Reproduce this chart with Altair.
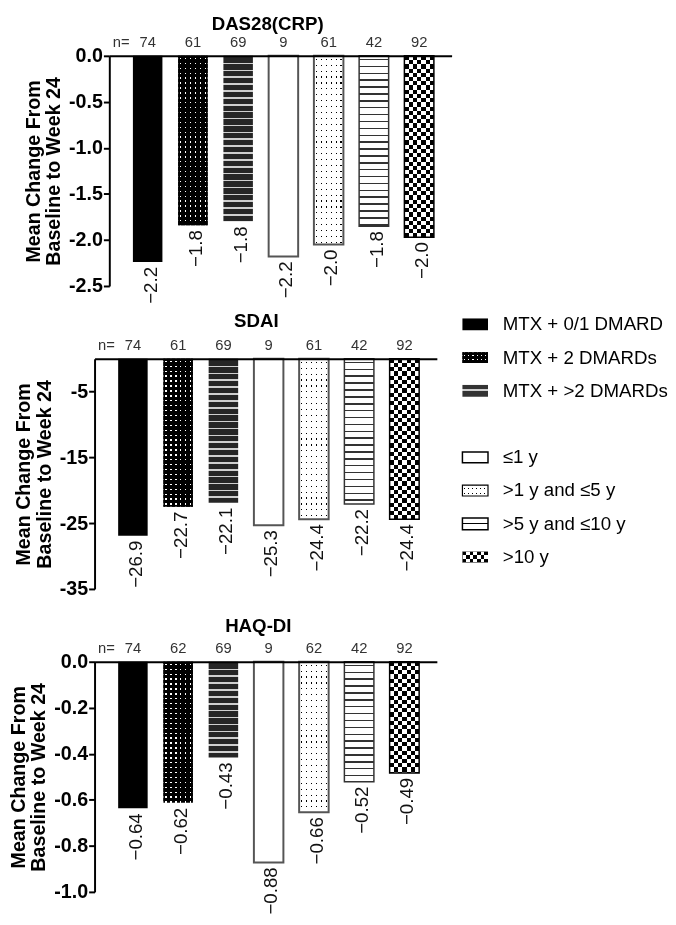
import altair as alt
import pandas as pd

F = "Liberation Sans, Arial, Helvetica, sans-serif"

# ---------------- data ----------------
categories = ["MTX + 0/1 DMARD", "MTX + 2 DMARDs", "MTX + >2 DMARDs",
              "≤1 y", ">1 y and ≤5 y", ">5 y and ≤10 y", ">10 y"]

das_mean = [-2.24, -1.84, -1.80, -2.18, -2.05, -1.85, -1.97]
das_label = ["−2.2", "−1.8", "−1.8", "−2.2", "−2.0", "−1.8", "−2.0"]
das_n = [74, 61, 69, 9, 61, 42, 92]

sdai_mean = [-26.9, -22.5, -21.9, -25.3, -24.4, -22.1, -24.4]
sdai_label = ["−26.9", "−22.7", "−22.1", "−25.3", "−24.4", "−22.2", "−24.4"]
sdai_n = [74, 61, 69, 9, 61, 42, 92]

haq_mean = [-0.637, -0.613, -0.416, -0.872, -0.654, -0.521, -0.483]
haq_label = ["−0.64", "−0.62", "−0.43", "−0.88", "−0.66", "−0.52", "−0.49"]
haq_n = [74, 62, 69, 9, 62, 42, 92]

das_ticks = [0, -0.5, -1.0, -1.5, -2.0, -2.5]
sdai_ticks = [-5, -15, -25, -35]
haq_ticks = [0, -0.2, -0.4, -0.6, -0.8, -1.0]

y_title = ["Mean Change From", "Baseline to Week 24"]
legend_rows = ["MTX + 0/1 DMARD", "MTX + 2 DMARDs", "MTX + >2 DMARDs", " ",
               "≤1 y", ">1 y and ≤5 y", ">5 y and ≤10 y", ">10 y"]

# ---------------- style helpers ----------------
BAR_W = 30
PLOT_H = 234
PLOT_W = 348


def stops(L, period, lw, bg, fg, phase):
    out = [{"offset": 0, "color": bg}]
    s = phase
    while s < L:
        a = max(0.0, s / L)
        b = min((s + lw) / L, 1.0)
        out += [{"offset": a, "color": bg}, {"offset": a, "color": fg},
                {"offset": b, "color": fg}, {"offset": b, "color": bg}]
        s += period
    out.append({"offset": 1, "color": bg})
    return out


def grad(direction, st):
    if direction == "v":   # varies along y -> horizontal lines
        return {"gradient": "linear", "x1": 0, "y1": 0, "x2": 0, "y2": 1, "stops": st}
    return {"gradient": "linear", "x1": 0, "y1": 0, "x2": 1, "y2": 0, "stops": st}


def bar_pattern(kind, w, h):
    if kind == 0:
        return [dict(fill="black")]
    if kind == 1:
        return [dict(fill=grad("h", stops(w, 5, 1.4, "black", "white", 2))),
                dict(fill=grad("v", stops(h, 5, 1.4, "black", "white", 2)), blend="darken")]
    if kind == 2:
        return [dict(fill=grad("v", stops(h, 7, 1.6, "#262626", "#cfcfcf", 0)))]
    if kind == 3:
        return [dict(fill="white", stroke="#555555", strokeWidth=2)]
    if kind == 4:
        return [dict(fill=grad("h", stops(w, 5, 1.2, "white", "black", 2))),
                dict(fill=grad("v", stops(h, 6, 1.2, "white", "black", 3)), blend="lighten"),
                dict(fillOpacity=0, stroke="#555555", strokeWidth=2)]
    if kind == 5:
        return [dict(fill=grad("v", stops(h, 7, 1.5, "white", "#333333", 3))),
                dict(fillOpacity=0, stroke="#333333", strokeWidth=1.5)]
    return [dict(fill=grad("h", stops(w, 8.6, 4.3, "white", "black", 0))),
            dict(fill=grad("v", stops(h, 8.6, 4.3, "white", "black", 0)), blend="difference"),
            dict(fillOpacity=0, stroke="black", strokeWidth=1.5)]


def legend_pattern(kind, w, h):
    if kind == 0:
        return [dict(fill="black")]
    if kind == 1:
        return [dict(fill=grad("h", stops(w, 4.3, 1.2, "black", "white", 1.5))),
                dict(fill=grad("v", stops(h, 4, 1.2, "black", "white", 3)), blend="darken")]
    if kind == 2:
        return [dict(fill=grad("v", stops(h, 100, 2, "#333333", "#cfcfcf", 4.5)))]
    if kind == 3:
        return [dict(fill="white", stroke="black", strokeWidth=1.5)]
    if kind == 4:
        return [dict(fill=grad("h", stops(w, 4, 1.0, "white", "black", 2))),
                dict(fill=grad("v", stops(h, 5, 1.0, "white", "black", 2.5)), blend="lighten"),
                dict(fillOpacity=0, stroke="black", strokeWidth=1.2)]
    if kind == 5:
        return [dict(fill=grad("v", stops(h, 100, 1.5, "white", "black", 4.8))),
                dict(fillOpacity=0, stroke="black", strokeWidth=1.5)]
    return [dict(fill=grad("h", stops(w, 7.4, 3.7, "white", "black", 0))),
            dict(fill=grad("v", stops(h, 7.4, 3.7, "white", "black", 0)), blend="difference")]


def panel(title, means, labels, ns, ymin, ticks, fmt, shift, title_dx, title_offset):
    df = pd.DataFrame({"cat": categories, "val": means, "lab": labels,
                       "n": [str(v) for v in ns], "z": [0.0] * len(categories)})
    W = PLOT_W + shift
    xs = alt.Scale(domain=categories, range=[shift, W], paddingInner=0,
                   paddingOuter=0.2826, align=0.615)
    X = alt.X("cat:N", scale=xs,
              axis=alt.Axis(orient="top", labels=False, ticks=False, title=None,
                            domainColor="black", domainWidth=2, zindex=1, grid=False))
    ax = dict(values=ticks, format=fmt, labelExpr="replace(datum.label, '\u2212', '-')",
              tickSize=6, tickWidth=2, tickColor="black", domainColor="black", domainWidth=2,
              labelFont=F, labelFontSize=20, labelFontWeight="bold", labelColor="black",
              labelPadding=1, title=y_title, titleFont=F, titleFontSize=20,
              titleFontWeight="bold", titleColor="black", titlePadding=5,
              titleLineHeight=21, grid=False, zindex=1, labelOverlap=False)
    if shift:
        ax["offset"] = -shift
    yaxis = alt.Axis(**ax)
    ys = alt.Scale(domain=[ymin, 0], nice=False)
    Y = alt.Y("val:Q", scale=ys, axis=yaxis)
    Z = alt.Y("z:Q", scale=ys, axis=yaxis)

    layers = []
    for i, c in enumerate(categories):
        h = abs(means[i]) / abs(ymin) * PLOT_H
        for mk in bar_pattern(i, BAR_W, h):
            layers.append(alt.Chart(df).transform_filter(alt.datum.cat == c)
                          .mark_bar(width=BAR_W, **mk).encode(x=X, y=Y))
    layers.append(alt.Chart(df).mark_text(angle=270, align="right", baseline="middle",
                                          dx=-5, dy=3, font=F, fontSize=19, color="#111111")
                  .encode(x=X, y=Y, text="lab:N"))
    layers.append(alt.Chart(df).mark_text(baseline="middle", dy=-14, font=F, fontSize=15,
                                          color="#333333")
                  .encode(x=X, y=Z, text="n:N"))
    neq = pd.DataFrame({"cat": [categories[0]], "z": [0.0], "t": ["n="]})
    layers.append(alt.Chart(neq).mark_text(baseline="middle", dy=-14, dx=-27, font=F,
                                           fontSize=15, color="#333333")
                  .encode(x=X, y=Z, text="t:N"))
    return alt.layer(*layers).properties(
        width=W, height=PLOT_H,
        title=alt.TitleParams(text=title, font=F, fontSize=19, fontWeight="bold",
                              color="black", anchor="middle", frame="group",
                              dx=title_dx, offset=title_offset))


p1 = panel("DAS28(CRP)", das_mean, das_label, das_n, -2.5, das_ticks, ".1f", 15, -5.5, 1)
p2 = panel("SDAI", sdai_mean, sdai_label, sdai_n, -35, sdai_ticks, "d", 0, -9.5, 7)
p3 = panel("HAQ-DI", haq_mean, haq_label, haq_n, -1.0, haq_ticks, ".1f", 0, -7.5, 5)

# ---------------- legend ----------------
LEG_H = 860
STEP = 33.8
P1_ZERO = 48
leg_top = 321 - P1_ZERO - STEP / 2
ldf = pd.DataFrame({"label": categories})
YL = alt.Y("label:N", scale=alt.Scale(domain=legend_rows, paddingInner=0, paddingOuter=0,
                                      range=[leg_top, leg_top + STEP * len(legend_rows)]),
           axis=None)
leg_layers = []
for i, c in enumerate(categories):
    hh = 12 if i in (0, 2, 5) else 11
    for mk in legend_pattern(i, 26, hh):
        leg_layers.append(alt.Chart(ldf).transform_filter(alt.datum.label == c)
                          .mark_rect(height=hh, **mk)
                          .encode(x=alt.value(0), x2=alt.value(26), y=YL))
leg_layers.append(alt.Chart(ldf).mark_text(align="left", baseline="middle", font=F,
                                           fontSize=19, color="black")
                  .encode(x=alt.value(41), y=YL, text="label:N"))
legend = alt.layer(*leg_layers).properties(width=205, height=LEG_H)

chart = alt.hconcat(
    alt.vconcat(p1, p2, p3, spacing=74, bounds="flush"),
    legend, spacing=10
).properties(padding=0, background="white").configure_view(strokeWidth=0)

chart.save("out.html", embed_options={"renderer": "svg", "actions": False})
